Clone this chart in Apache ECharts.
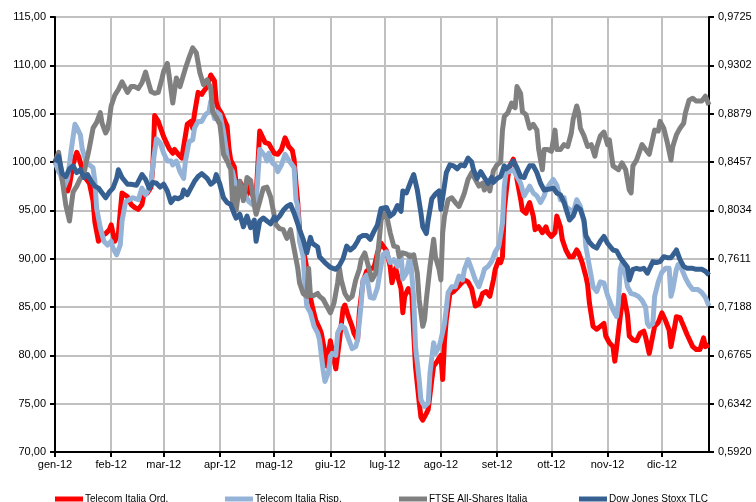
<!DOCTYPE html>
<html><head><meta charset="utf-8">
<script src="https://cdn.jsdelivr.net/npm/echarts@6/dist/echarts.min.js"></script>
<style>html,body{margin:0;padding:0;background:#fff}#c{width:756px;height:502px}</style>
</head><body><div id="c"></div>
<script>
const monthStartDays = [0,31,60,91,121,152,182,213,244,274,305,335];
const monthLabels = ['gen-12','feb-12','mar-12','apr-12','mag-12','giu-12','lug-12','ago-12','set-12','ott-12','nov-12','dic-12'];
const lastDay = 361;
const leftTickLabels = ['70,00','75,00','80,00','85,00','90,00','95,00','100,00','105,00','110,00','115,00'];
const rightTickLabels = ['0,5920','0,6342','0,6765','0,7188','0,7611','0,8034','0,8457','0,8879','0,9302','0,9725'];
const seriesNames = ['Telecom Italia Ord.','Telecom Italia Risp.','FTSE All-Shares Italia','Dow Jones Stoxx TLC'];

// [day of 2012 (0 = 1 Jan), value]
const ordData = [[0,100.0],[2,99.5],[5,98.0],[7,97.0],[8,97.6],[10,99.8],[12,101.0],[13,100.6],[15,99.3],[17,98.3],[19,97.8],[21,96.0],[22,93.8],[24,91.8],[26,92.4],[28,92.6],[30,93.0],[31,93.5],[33,91.8],[35,92.6],[36,94.8],[37,96.8],[40,96.4],[42,95.6],[44,95.3],[46,95.1],[48,95.6],[49,96.6],[51,96.8],[53,97.4],[54,99.5],[55,104.8],[57,104.2],[60,102.6],[62,101.8],[63,101.4],[65,100.9],[66,101.3],[68,100.8],[70,100.4],[71,101.6],[73,103.9],[75,104.2],[76,103.5],[77,105.0],[79,107.2],[81,107.0],[82,107.3],[84,107.8],[86,109.0],[87,109.2],[88,108.4],[89,106.2],[90,105.6],[92,105.0],[93,104.8],[95,103.7],[96,101.4],[97,100.2],[99,99.5],[100,97.7],[102,98.0],[104,97.3],[106,96.6],[108,97.6],[110,95.9],[111,96.4],[113,103.2],[114,103.3],[116,102.0],[118,101.9],[119,102.1],[121,100.9],[123,100.8],[125,101.3],[127,102.5],[128,102.1],[129,101.6],[131,101.2],[132,100.2],[133,97.8],[134,95.8],[135,93.0],[137,91.0],[139,89.0],[140,86.8],[142,85.1],[144,83.6],[146,82.8],[147,82.3],[149,80.3],[150,78.9],[152,81.5],[153,81.7],[155,78.6],[156,78.4],[157,81.5],[159,84.8],[160,85.2],[162,84.0],[164,83.0],[165,82.3],[167,81.6],[168,84.5],[170,87.6],[172,88.7],[174,89.0],[176,89.0],[178,90.6],[180,91.6],[181,91.6],[183,90.8],[185,89.2],[186,87.5],[188,89.0],[189,89.1],[191,86.9],[192,84.4],[193,86.1],[195,86.9],[197,86.3],[198,82.3],[199,78.8],[201,75.2],[202,73.6],[203,73.3],[205,74.0],[206,74.4],[208,77.5],[209,78.9],[211,79.4],[212,79.2],[213,80.0],[214,77.5],[215,81.5],[216,83.7],[218,86.4],[220,86.6],[222,87.0],[224,87.4],[226,87.8],[228,87.6],[230,86.9],[232,85.1],[234,85.3],[236,86.4],[238,86.6],[240,86.1],[242,87.8],[243,88.9],[245,89.9],[246,89.6],[247,90.2],[248,95.1],[250,98.5],[251,99.6],[253,100.3],[254,99.6],[255,98.2],[257,96.2],[258,95.0],[260,94.7],[261,95.4],[262,95.8],[264,94.4],[265,93.0],[267,93.3],[269,92.7],[271,93.3],[272,92.7],[274,92.3],[276,92.7],[277,94.4],[279,93.3],[280,92.0],[282,90.9],[284,90.2],[286,90.2],[288,90.9],[289,90.6],[291,89.6],[293,88.2],[294,87.3],[295,85.4],[297,83.0],[299,82.7],[301,83.0],[303,83.3],[304,82.0],[306,81.3],[308,80.9],[309,79.4],[310,80.8],[312,84.0],[313,85.4],[314,86.2],[316,84.2],[317,82.0],[319,81.6],[321,81.5],[323,82.3],[325,82.5],[326,81.9],[328,80.2],[329,80.3],[331,83.0],[333,83.4],[335,84.4],[337,83.6],[339,82.6],[340,80.9],[342,82.9],[343,84.0],[345,83.9],[347,83.0],[349,82.1],[350,81.9],[352,80.9],[354,80.6],[356,80.6],[358,81.8],[359,80.9],[361,81.1]];

const rispData = [[0,100.0],[2,99.0],[3,98.7],[5,97.4],[7,98.3],[9,101.3],[11,103.9],[12,103.6],[14,102.8],[15,101.4],[17,100.1],[19,99.7],[21,99.4],[22,98.0],[23,95.2],[25,93.2],[27,91.8],[29,91.4],[31,91.8],[32,91.1],[34,90.4],[36,91.4],[37,93.9],[39,95.9],[41,96.1],[43,96.3],[44,96.3],[46,96.1],[48,97.3],[50,96.6],[53,97.7],[54,99.7],[56,102.4],[58,102.0],[60,100.9],[62,100.1],[64,100.1],[65,99.7],[67,100.1],[69,99.0],[71,98.3],[72,100.1],[74,102.1],[76,102.3],[77,103.5],[79,104.2],[81,104.2],[83,104.9],[85,105.2],[86,106.3],[88,104.5],[89,105.2],[91,104.9],[93,103.2],[95,100.6],[96,99.6],[98,99.0],[100,97.3],[101,97.0],[103,96.9],[105,96.6],[107,95.9],[109,95.6],[111,95.9],[112,98.5],[113,101.3],[114,101.3],[116,100.6],[117,100.1],[118,100.9],[120,99.9],[122,99.6],[123,99.0],[125,99.7],[127,100.8],[129,100.2],[130,100.4],[132,99.4],[133,96.1],[134,95.4],[135,91.8],[137,90.2],[138,87.1],[139,85.1],[141,84.4],[143,83.0],[145,82.3],[146,81.6],[148,78.5],[149,77.3],[151,78.3],[152,79.9],[153,80.2],[155,80.0],[156,82.3],[158,83.1],[160,82.8],[162,81.7],[164,80.7],[166,80.9],[167,81.6],[169,85.3],[170,87.8],[172,88.3],[174,86.0],[176,85.9],[178,87.0],[179,88.2],[181,90.4],[183,90.7],[185,89.6],[187,89.9],[189,89.2],[191,90.6],[192,87.9],[194,88.5],[196,90.4],[198,86.0],[199,80.9],[201,77.5],[202,75.4],[204,74.7],[206,75.1],[207,78.2],[209,81.3],[210,80.2],[212,80.9],[213,81.6],[215,83.3],[217,86.5],[219,87.1],[221,87.1],[223,88.2],[225,87.8],[226,88.9],[228,89.9],[230,88.9],[232,87.8],[234,87.1],[236,88.2],[237,88.9],[239,89.2],[241,89.7],[243,90.7],[245,91.3],[247,93.7],[248,97.5],[249,98.9],[251,99.0],[253,99.2],[255,98.5],[257,97.8],[259,96.5],[260,96.6],[262,97.5],[264,96.8],[266,96.5],[268,95.8],[270,96.5],[271,97.1],[273,97.7],[275,98.2],[277,97.6],[279,96.1],[281,96.3],[282,95.4],[284,95.1],[286,94.7],[288,96.1],[290,95.4],[292,93.7],[293,91.3],[295,89.2],[297,87.1],[299,86.6],[301,87.6],[303,87.5],[305,86.2],[306,85.7],[308,84.7],[310,84.0],[311,85.4],[312,88.9],[313,89.6],[315,88.2],[316,87.1],[318,86.4],[320,86.3],[322,86.1],[324,85.7],[326,85.0],[327,83.3],[328,83.0],[330,83.3],[331,86.1],[333,87.6],[335,88.6],[337,89.0],[339,89.0],[340,86.1],[341,86.8],[343,88.9],[344,89.4],[346,88.9],[348,88.0],[350,87.3],[352,86.8],[355,86.8],[357,86.5],[359,86.0],[361,85.1]];

const ftseData = [[0,100.0],[2,101.0],[3,101.2],[5,96.8],[6,95.5],[8,93.9],[9,95.5],[10,96.9],[12,97.5],[14,98.3],[16,98.7],[17,99.8],[18,100.6],[19,101.5],[21,103.5],[23,104.1],[25,105.1],[26,104.0],[28,103.0],[29,103.4],[30,104.4],[31,105.8],[33,106.9],[35,107.5],[37,108.3],[38,108.5],[40,107.2],[42,107.8],[44,107.8],[46,107.6],[48,108.2],[50,109.3],[51,108.6],[53,107.3],[55,107.1],[57,107.2],[59,108.6],[60,109.4],[62,110.2],[63,108.9],[65,106.1],[67,108.7],[69,107.8],[70,107.7],[72,109.7],[74,110.8],[76,111.8],[77,112.0],[78,111.3],[80,109.2],[82,108.0],[84,108.5],[86,107.6],[87,105.2],[89,104.6],[91,103.9],[93,100.8],[95,100.1],[97,99.3],[98,95.8],[99,97.3],[100,95.0],[102,98.0],[104,96.0],[106,98.4],[108,98.1],[110,95.5],[111,94.6],[113,95.9],[115,97.3],[117,97.4],[119,96.4],[121,94.5],[122,93.5],[124,93.1],[126,93.0],[128,92.1],[130,93.0],[132,91.0],[134,89.0],[135,87.5],[137,86.4],[139,86.1],[140,89.0],[141,86.2],[143,86.2],[145,86.4],[146,86.1],[148,85.8],[150,85.1],[152,84.4],[154,85.4],[156,87.5],[157,89.0],[158,87.8],[160,86.4],[162,85.8],[164,86.1],[166,87.8],[168,88.9],[169,89.9],[171,90.6],[173,89.2],[175,87.8],[177,88.5],[179,92.0],[180,94.0],[182,94.8],[183,94.5],[185,92.7],[187,91.3],[189,91.2],[190,90.2],[192,90.6],[194,90.5],[196,90.2],[198,90.4],[200,88.5],[201,85.8],[203,83.0],[204,83.7],[205,85.8],[207,89.2],[209,92.0],[210,90.2],[212,88.9],[213,87.8],[214,92.7],[215,94.4],[217,96.1],[219,96.3],[221,95.8],[223,95.4],[225,96.3],[226,96.8],[228,98.2],[230,98.9],[232,98.2],[234,97.5],[236,97.8],[237,97.1],[239,97.8],[240,97.0],[242,99.1],[244,99.7],[246,100.0],[247,103.3],[248,104.7],[250,105.1],[252,106.1],[254,105.6],[255,107.8],[257,107.1],[258,105.2],[260,104.9],[262,103.5],[264,103.9],[266,103.3],[267,101.3],[269,99.2],[270,101.3],[272,101.3],[274,101.1],[276,103.3],[277,101.3],[279,101.3],[281,101.8],[283,101.6],[285,103.0],[286,104.4],[288,105.8],[289,105.1],[290,103.5],[292,102.7],[294,101.6],[296,101.8],[298,100.6],[299,101.5],[301,102.7],[303,103.1],[305,101.8],[306,102.3],[308,99.6],[311,99.2],[313,99.9],[315,99.2],[317,97.1],[318,96.8],[319,99.6],[321,100.2],[324,101.8],[326,101.3],[328,100.8],[329,100.9],[331,103.3],[333,103.2],[334,104.2],[336,103.5],[338,102.0],[340,100.2],[341,101.6],[343,102.8],[345,103.5],[347,104.0],[348,105.1],[350,106.4],[352,106.6],[354,106.3],[357,106.3],[359,106.8],[361,105.9]];

const djData = [[0,100.0],[2,100.6],[4,98.8],[6,98.5],[8,99.3],[10,99.6],[12,98.9],[14,99.2],[16,98.4],[18,98.7],[20,98.0],[22,97.5],[24,97.3],[26,96.8],[28,96.3],[30,96.9],[32,97.3],[34,98.3],[35,99.2],[37,98.4],[40,97.7],[42,97.7],[45,97.6],[48,98.7],[50,98.2],[52,97.3],[54,97.9],[56,97.8],[58,97.4],[60,97.7],[62,97.0],[64,95.8],[66,96.3],[68,96.2],[70,96.4],[71,97.1],[73,96.6],[75,97.3],[77,98.0],[79,98.5],[81,98.8],[82,99.0],[84,98.3],[86,97.7],[88,98.0],[89,98.7],[91,97.7],[93,96.3],[95,95.8],[97,95.6],[99,94.6],[100,94.2],[102,94.6],[104,93.3],[106,94.4],[108,93.2],[110,94.0],[111,91.8],[113,93.9],[115,94.2],[117,93.9],[119,93.6],[121,94.3],[122,94.0],[124,94.4],[126,95.0],[128,95.4],[130,95.6],[132,94.7],[134,93.6],[135,93.0],[137,92.0],[139,90.6],[141,92.2],[142,91.6],[145,91.2],[146,90.2],[149,89.6],[152,89.1],[155,88.9],[157,89.3],[159,90.0],[161,91.3],[163,90.9],[165,91.2],[167,91.8],[168,92.2],[170,92.4],[172,92.4],[174,92.0],[176,92.8],[178,93.5],[180,95.2],[181,95.4],[183,95.3],[185,94.4],[187,94.7],[189,95.5],[191,94.9],[192,97.0],[194,96.8],[196,97.8],[198,98.7],[200,97.1],[202,94.7],[203,93.3],[205,92.6],[206,94.0],[208,96.2],[210,96.7],[212,97.0],[213,95.1],[215,97.6],[216,98.9],[218,99.7],[220,99.6],[222,99.3],[224,99.7],[226,99.6],[228,100.4],[230,100.0],[231,99.2],[233,98.3],[235,99.0],[237,98.4],[239,97.8],[241,98.4],[242,97.9],[244,98.3],[246,98.5],[248,99.6],[249,99.3],[251,99.6],[253,100.1],[255,99.4],[257,98.5],[259,98.4],[260,98.9],[262,99.6],[264,99.6],[266,98.9],[268,97.8],[270,97.1],[271,97.3],[273,97.2],[275,97.3],[277,96.8],[279,96.6],[281,95.8],[282,95.2],[284,94.0],[286,94.4],[288,95.4],[290,95.1],[292,94.0],[293,92.4],[295,91.7],[297,91.3],[299,91.1],[301,91.8],[303,92.3],[305,91.6],[306,91.8],[308,90.9],[310,90.8],[312,90.1],[314,89.6],[316,89.1],[317,87.8],[319,88.9],[321,89.0],[323,88.9],[325,89.0],[327,88.5],[328,88.9],[330,89.7],[332,89.6],[334,89.7],[336,90.2],[338,90.1],[340,90.1],[342,90.6],[343,90.9],[345,89.9],[347,89.2],[349,89.0],[352,89.0],[354,88.9],[357,88.9],[359,88.7],[361,88.3]];

const colors = ['#ff0000','#95b3d7','#808080','#376092'];
const FONT = "'Liberation Sans', Arial, sans-serif";
const dayCategories = Array.from({length: lastDay + 1}, (_, i) => String(i));
const isMonthStart = (i) => monthStartDays.indexOf(i) >= 0;

const chart = echarts.init(document.getElementById('c'), null, {renderer: 'canvas'});
const allData = [ordData, rispData, ftseData, djData];
const legendLefts = [55, 225, 399, 579];

const option = {
  animation: false,
  backgroundColor: '#ffffff',
  grid: {left: 55, right: 47, top: 17, bottom: 50, containLabel: false},
  xAxis: {
    type: 'category', data: dayCategories, boundaryGap: false,
    axisLine: {show: true, lineStyle: {color: '#000', width: 2}},
    axisTick: {show: true, interval: (i) => isMonthStart(i), length: 5, lineStyle: {color: '#000', width: 2}},
    axisLabel: {interval: (i) => isMonthStart(i), formatter: (v) => monthLabels[monthStartDays.indexOf(+v)],
      margin: 7, color: '#000', fontSize: 11, fontFamily: FONT},
    splitLine: {show: true, interval: (i) => i > 0 && isMonthStart(i), lineStyle: {color: '#c0c0c0', width: 2}}
  },
  yAxis: [
    {type: 'value', position: 'left', min: 70, max: 115, interval: 5,
      axisLine: {show: true, lineStyle: {color: '#000', width: 2}},
      axisTick: {show: true, length: 5, lineStyle: {color: '#000', width: 2}},
      axisLabel: {formatter: (v) => leftTickLabels[Math.round((v - 70) / 5)], margin: 9, color: '#000', fontSize: 11, fontFamily: FONT},
      splitLine: {show: true, showMinLine: false, lineStyle: {color: '#c0c0c0', width: 2}}},
    {type: 'value', position: 'right', min: 0, max: 9, interval: 1,
      axisLine: {show: true, lineStyle: {color: '#000', width: 2}},
      axisTick: {show: true, length: 5, lineStyle: {color: '#000', width: 2}},
      axisLabel: {formatter: (v) => rightTickLabels[Math.round(v)], margin: 9, color: '#000', fontSize: 11, fontFamily: FONT},
      splitLine: {show: false}}
  ],
  legend: seriesNames.map((n, i) => ({
    data: [n], left: legendLefts[i], top: 494, padding: 0, icon: 'rect',
    itemWidth: 28, itemHeight: 5, selectedMode: false,
    textStyle: {fontSize: 10, color: '#000', fontFamily: FONT, padding: [0, 0, 0, -3]}
  })),
  series: seriesNames.map((n, i) => ({
    name: n, type: 'line', xAxisIndex: 0, yAxisIndex: 0,
    data: allData[i], showSymbol: false, symbol: 'none',
    color: colors[i],
    lineStyle: {color: colors[i], width: 5, join: 'round'},
    itemStyle: {color: colors[i]}
  }))
};
chart.setOption(option);
</script>
</body></html>
